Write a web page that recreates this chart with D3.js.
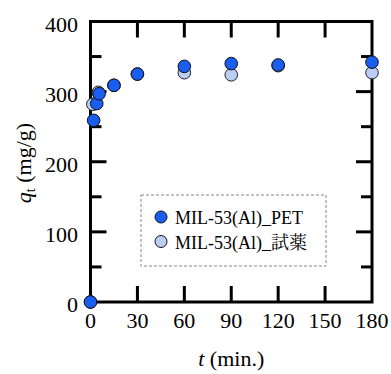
<!DOCTYPE html>
<html>
<head>
<meta charset="utf-8">
<script src="https://cdn.jsdelivr.net/npm/d3@7"></script>
<style>
  html, body { margin: 0; padding: 0; background: #fff; }
  svg { display: block; }
  text { font-family: "Liberation Serif", "Times New Roman", Times, "DejaVu Serif", "Noto Serif CJK JP", "Noto Sans CJK JP", serif; }
</style>
</head>
<body>
<svg id="chart" width="391" height="374"></svg>
<script>
// ---- data ----
const seriesNames = ["MIL-53(Al)_PET", "MIL-53(Al)_試薬"];
const petTime = [0, 2, 4, 5.5, 15, 30, 60, 90, 120, 180];
const petQ    = [0, 259, 283, 297, 309, 325, 336, 340, 338, 342];
const regTime = [0, 1.5, 5, 15, 30, 60, 90, 120, 180];
const regQ    = [0, 282, 299, 309, 325, 327, 324, 337, 327];
const xTicks = [0, 30, 60, 90, 120, 150, 180];
const yTicks = [0, 100, 200, 300, 400];
const yMinor = [50, 150, 250, 350];

const svg = d3.select("#chart");
const L = 90.5, R = 372, T = 21.5, B = 302;
const x = d3.scaleLinear().domain([0, 180]).range([L, R]);
const y = d3.scaleLinear().domain([0, 400]).range([B, T]);

const majorLen = 16, minorLen = 11;

// axis frame
const frame = svg.append("g").attr("stroke", "#000").attr("stroke-width", 3).attr("fill", "none");
frame.append("rect").attr("x", L).attr("y", T).attr("width", R - L).attr("height", B - T)
  .attr("stroke-linejoin", "miter");

xTicks.filter(d => d > 0 && d < 180).forEach(d => {
  frame.append("line").attr("x1", x(d)).attr("x2", x(d)).attr("y1", B).attr("y2", B - majorLen);
  frame.append("line").attr("x1", x(d)).attr("x2", x(d)).attr("y1", T).attr("y2", T + majorLen);
});
yTicks.filter(d => d > 0 && d < 400).forEach(d => {
  frame.append("line").attr("x1", L).attr("x2", L + majorLen).attr("y1", y(d)).attr("y2", y(d));
  frame.append("line").attr("x1", R).attr("x2", R - majorLen).attr("y1", y(d)).attr("y2", y(d));
});
yMinor.forEach(d => {
  frame.append("line").attr("x1", L).attr("x2", L + minorLen).attr("y1", y(d)).attr("y2", y(d));
  frame.append("line").attr("x1", R).attr("x2", R - minorLen).attr("y1", y(d)).attr("y2", y(d));
});

// tick labels
svg.append("g").selectAll("text").data(xTicks).join("text")
  .attr("x", d => x(d)).attr("y", B + 26)
  .attr("text-anchor", "middle")
  .attr("font-size", 22)
  .text(d => d);
svg.append("g").selectAll("text").data(yTicks).join("text")
  .attr("x", 78).attr("y", d => y(d) + 10)
  .attr("text-anchor", "end")
  .attr("font-size", 22)
  .text(d => d);

// axis titles
const xt = svg.append("text").attr("x", (L + R) / 2).attr("y", 366)
  .attr("text-anchor", "middle").attr("font-size", 22);
xt.append("tspan").attr("font-style", "italic").text("t");
xt.append("tspan").text(" (min.)");

const yt = svg.append("text")
  .attr("transform", `translate(31,${163}) rotate(-90)`)
  .attr("text-anchor", "middle").attr("font-size", 22);
yt.append("tspan").attr("font-style", "italic").text("q");
yt.append("tspan").attr("font-size", 14).attr("dy", 4).text("t");
yt.append("tspan").attr("dy", -4).text(" (mg/g)");

// points
const colPET = "#1a5ef0", colReg = "#b9cdf5";
const r = 6.3;
svg.append("g").selectAll("circle").data(regTime.map((t, i) => [t, regQ[i]])).join("circle")
  .attr("cx", d => x(d[0])).attr("cy", d => y(d[1])).attr("r", r)
  .attr("fill", colReg).attr("stroke", "#222").attr("stroke-width", 1);
svg.append("g").selectAll("circle").data(petTime.map((t, i) => [t, petQ[i]])).join("circle")
  .attr("cx", d => x(d[0])).attr("cy", d => y(d[1])).attr("r", r)
  .attr("fill", colPET).attr("stroke", "#111").attr("stroke-width", 1);

// legend
const lg = svg.append("g");
lg.append("rect").attr("x", 141).attr("y", 195).attr("width", 185).attr("height", 71)
  .attr("fill", "#fff").attr("stroke", "#888").attr("stroke-width", 1)
  .attr("stroke-dasharray", "3,2");
[colPET, colReg].forEach((c, i) => {
  const yy = 217 + i * 24.5;
  lg.append("circle").attr("cx", 161).attr("cy", yy).attr("r", 6)
    .attr("fill", c).attr("stroke", "#111").attr("stroke-width", 1);
  lg.append("text").attr("x", 175).attr("y", yy + 7)
    .attr("font-size", 18).text(seriesNames[i]);
});
</script>
</body>
</html>
